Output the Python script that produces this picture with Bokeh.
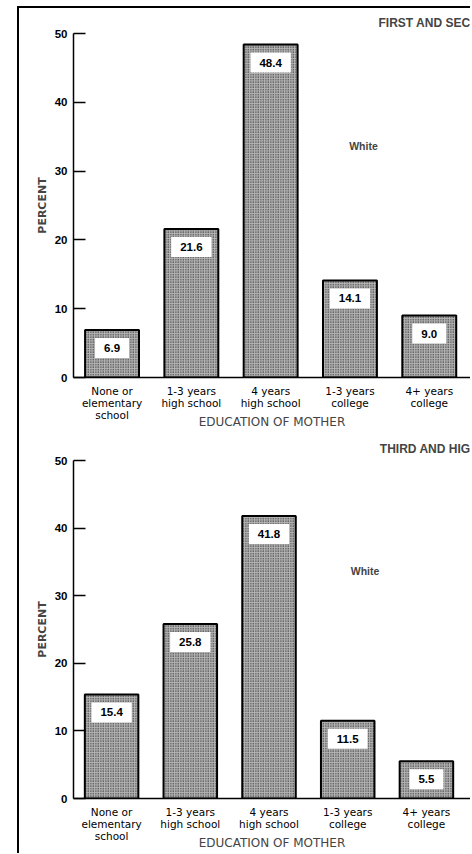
from bokeh.plotting import figure
from bokeh.models import Range1d, FixedTicker, ColumnDataSource, Label
from bokeh.layouts import column
from bokeh.embed import file_html
from bokeh.resources import INLINE
from bokeh.core.properties import value

# ---- data ----
categories = ["None or\nelementary\nschool", "1-3 years\nhigh school", "4 years\nhigh school",
              "1-3 years\ncollege", "4+ years\ncollege"]
first_second = [6.9, 21.6, 48.4, 14.1, 9.0]
third_higher = [15.4, 25.8, 41.8, 11.5, 5.5]
y_ticks = [0, 10, 20, 30, 40, 50]
panel_titles = ["FIRST AND SEC", "THIRD AND HIG"]
race_label = "White"
x_title = "EDUCATION OF MOTHER"
y_title = "PERCENT"

LIB = "Liberation Sans"
DEJ = "DejaVu Sans"


def make_panel(vals, title, width, height, xr, border_left, border_top, border_bottom,
               title_standoff, label_pos):
    p = figure(width=width, height=height, x_range=Range1d(*xr), y_range=Range1d(0, 50),
               output_backend="svg", toolbar_location=None,
               min_border_left=border_left, min_border_right=0,
               min_border_top=border_top, min_border_bottom=border_bottom,
               title=title)
    p.title.align = "right"
    p.title.text_font = LIB
    p.title.text_font_size = "12px"
    p.title.text_font_style = "bold"
    p.title.standoff = title_standoff
    p.xgrid.visible = False
    p.ygrid.visible = False
    p.outline_line_color = None
    p.background_fill_color = "white"
    p.border_fill_color = "white"

    src = ColumnDataSource(dict(x=list(range(len(vals))), top=vals,
                                label=[f"{v:.1f}" for v in vals]))
    p.vbar(x="x", top="top", bottom=0, width=0.68, source=src,
           fill_color="#b4b4b4", line_color="black", line_width=2,
           hatch_pattern="dot", hatch_scale=2.5, hatch_weight=1.2, hatch_color="#111111")
    p.text(x="x", y="top", text="label", source=src, text_align="center", text_baseline="top",
           y_offset=8, text_font=value(LIB), text_font_style="bold", text_font_size="11.5px",
           text_color="black", background_fill_color="white",
           padding=dict(left=9, right=9, top=6, bottom=6))

    p.add_layout(Label(x=label_pos[0], y=label_pos[1], text=race_label, text_font=LIB,
                       text_font_style="bold", text_font_size="10.5px", text_align="center",
                       text_baseline="middle"))

    xa = p.xaxis[0]
    xa.ticker = FixedTicker(ticks=list(range(len(categories))))
    xa.major_label_overrides = {i: c for i, c in enumerate(categories)}
    xa.major_tick_in = 0
    xa.major_tick_out = 0
    xa.minor_tick_line_color = None
    xa.axis_line_width = 1.5
    xa.axis_line_color = "black"
    xa.major_label_text_font = DEJ
    xa.major_label_text_font_size = "10.5px"
    xa.major_label_text_color = "black"
    xa.major_label_text_line_height = 1.03
    xa.major_label_standoff = 7
    xa.axis_label = x_title
    xa.axis_label_text_font = DEJ
    xa.axis_label_text_font_size = "12px"
    xa.axis_label_text_font_style = "normal"
    xa.axis_label_standoff = -9

    ya = p.yaxis[0]
    ya.ticker = FixedTicker(ticks=y_ticks)
    ya.major_tick_in = 12
    ya.major_tick_out = 0
    ya.major_tick_line_width = 1.5
    ya.minor_tick_line_color = None
    ya.axis_line_width = 1.5
    ya.axis_line_color = "black"
    ya.major_label_text_font = LIB
    ya.major_label_text_font_style = "bold"
    ya.major_label_text_font_size = "11.5px"
    ya.major_label_text_color = "black"
    ya.major_label_standoff = 6
    ya.axis_label = y_title
    ya.axis_label_text_font = DEJ
    ya.axis_label_text_font_style = "bold"
    ya.axis_label_text_font_size = "11px"
    ya.axis_label_standoff = 3
    return p


p1 = make_panel(first_second, panel_titles[0], 451, 424, (-0.486, 4.52), 54, 25, 55, 8, (3.17, 33.7))
p2 = make_panel(third_higher, panel_titles[1], 451, 421, (-0.484, 4.56), 49, 28, 52, 9, (3.22, 33.7))

layout = column(p1, p2, styles={"border-left": "2px solid black", "border-top": "2px solid black",
                                "margin-left": "17px", "margin-top": "6px"})

open("out.html", "w").write(file_html(layout, INLINE))
